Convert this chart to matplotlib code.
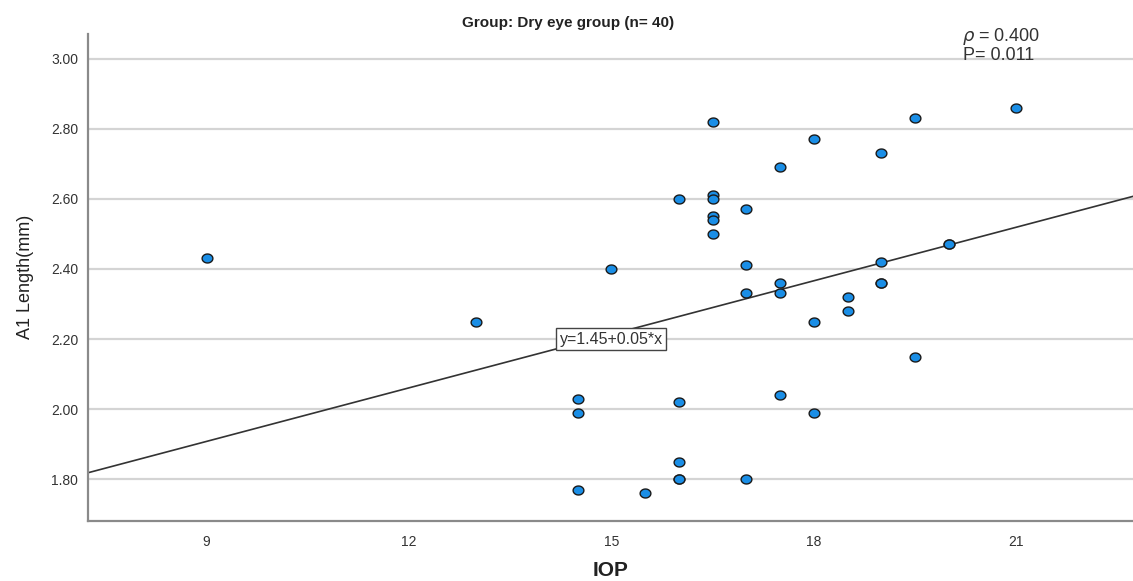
import numpy as np
import matplotlib.pyplot as plt
from matplotlib.path import Path

plt.rcParams['font.family'] = ['Liberation Sans', 'DejaVu Sans']

# IOP and A1 length values
iop = [9, 13, 15, 14.5, 14.5, 14.5, 15.5, 16, 16, 16, 16, 16,
       16.5, 16.5, 16.5, 16.5, 16.5, 16.5, 17, 17, 17, 17,
       17.5, 17.5, 17.5, 17.5, 18, 18, 18, 18.5, 18.5,
       19, 19, 19, 19, 19.5, 19.5, 20, 20, 21]
a1_len = [2.43, 2.25, 2.40, 2.03, 1.99, 1.77, 1.76, 2.60, 2.02, 1.85, 1.80, 1.80,
          2.82, 2.61, 2.60, 2.55, 2.54, 2.50, 2.57, 2.41, 2.33, 1.80,
          2.69, 2.36, 2.33, 2.04, 2.77, 2.25, 1.99, 2.32, 2.28,
          2.73, 2.42, 2.36, 2.36, 2.83, 2.15, 2.47, 2.47, 2.86]

intercept = 1.45
slope = 0.0509
x_range = [7.244, 22.73]
y_ticks = [1.80, 2.00, 2.20, 2.40, 2.60, 2.80, 3.00]
x_ticks = [9, 12, 15, 18, 21]

# slightly wide ellipse marker, like the stretched original
t = np.linspace(0, 2 * np.pi, 40)
ellipse = Path(np.column_stack([1.2 * np.cos(t), np.sin(t)]), closed=True)

fig = plt.figure(figsize=(11.33, 5.81), dpi=100)
ax = fig.add_axes([0.0777, 0.1038, 0.9223, 0.8377])

# grid lines
for yt in y_ticks:
    ax.axhline(yt, color='#d4d4d4', lw=1.6, zorder=0)

# fit line
ax.plot(x_range, [intercept + slope * x for x in x_range], color='#333333', lw=1.2, zorder=2)

ax.scatter(iop, a1_len, s=60, marker=ellipse, facecolor='#1a8ee6', edgecolor='#1a1a1a',
           linewidth=1.0, zorder=3)

ax.set_xlim(x_range)
ax.set_ylim(1.682, 3.07)
ax.set_xticks(x_ticks)
ax.set_yticks(y_ticks)
ax.set_yticklabels(['%.2f' % v for v in y_ticks])
ax.tick_params(length=0, labelsize=10, colors='#333333', pad=7)
ax.tick_params(axis='x', pad=10)

for s in ['top', 'right']:
    ax.spines[s].set_visible(False)
for s in ['left', 'bottom']:
    ax.spines[s].set_color('#8a8a8a')
    ax.spines[s].set_linewidth(1.6)

ax.set_xlabel('IOP', fontsize=15, fontweight='bold', color='#222222', labelpad=9)
ax.set_ylabel('A1 Length(mm)', fontsize=13, color='#222222', labelpad=12)

fig.text(0.501, 0.960, 'Group: Dry eye group (n= 40)', ha='center', va='center',
         fontsize=11, fontweight='bold', color='#222222')

ax.text(15.0, 2.20, 'y=1.45+0.05*x', ha='center', va='center', fontsize=11.5, color='#333333',
        bbox=dict(boxstyle='square,pad=0.22', facecolor='white', edgecolor='#444444', lw=1.0), zorder=4)

fig.text(0.849, 0.938, r'$\rho$ = 0.400', fontsize=13, color='#333333', va='center')
fig.text(0.850, 0.905, 'P= 0.011', fontsize=13, color='#333333', va='center')

fig.savefig('out.png', dpi=100)
